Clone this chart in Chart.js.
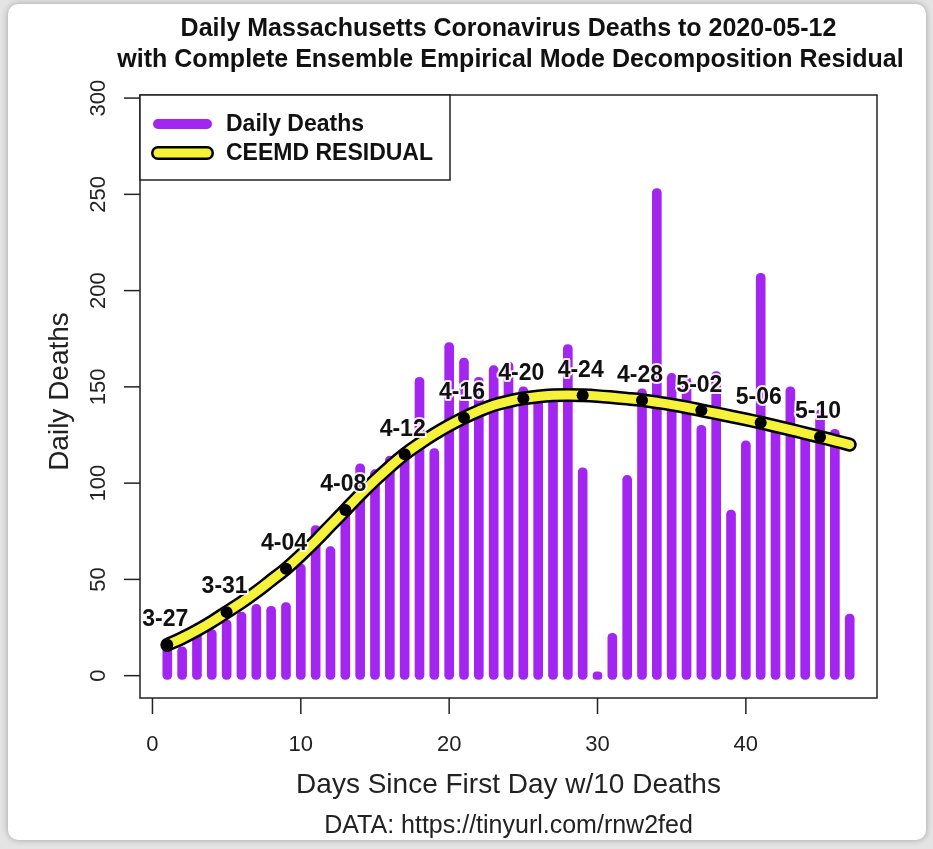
<!DOCTYPE html>
<html>
<head>
<meta charset="utf-8">
<title>Daily Massachusetts Coronavirus Deaths</title>
<script src="https://cdn.jsdelivr.net/npm/chart.js@4.4.1/dist/chart.umd.min.js"></script>
<style>
  html, body { margin: 0; padding: 0; background: #e4e4e4; }
  #panel {
    position: absolute; left: 8px; top: 4px; width: 918px; height: 836px;
    background: #fff; border-radius: 10px; box-shadow: 0 0 6px rgba(0, 0, 0, 0.3);
  }
  #wrap { position: absolute; left: 0; top: 0; width: 933px; height: 849px; }
</style>
</head>
<body>
<div id="panel"></div>
<div id="wrap"><canvas id="deathsChart" width="933" height="849"></canvas></div>
<script>
/////////////////////////////////////////////////////
// Data
/////////////////////////////////////////////////////

// Day number since first day with 10 deaths
var days = [1, 2, 3, 4, 5, 6, 7, 8, 9, 10, 11, 12, 13, 14, 15, 16, 17, 18, 19, 20, 21, 22, 23, 24,
            25, 26, 27, 28, 29, 30, 31, 32, 33, 34, 35, 36, 37, 38, 39, 40, 41, 42, 43, 44, 45, 46, 47];

// Daily deaths (purple bars)
var dailyDeaths = [15, 15, 27, 24, 29, 33, 37, 36, 38, 58, 78, 67, 88, 110, 107, 114, 116, 155, 118, 173,
                   165, 155, 161, 163, 150, 147, 148, 172, 108, 2, 22, 104, 149, 253, 157, 155, 130, 158, 86, 122,
                   209, 132, 150, 128, 138, 128, 32];

// CEEMD residual (yellow curve)
var ceemdResidual = [16, 19.5, 23.5, 28, 33, 38, 43.5, 49.5, 55.5, 62.5, 70, 78, 86, 94, 101.5, 108.5, 115, 120.5,
                     125.5, 130, 134, 137.5, 140.5, 142.5, 144, 145, 145.6, 145.8, 145.6, 145.2, 144.6, 143.9,
                     143.1, 142, 140.8, 139.4, 137.8, 136.3, 134.7, 133.1, 131.4, 129.6, 127.8, 125.9, 124, 122, 120];

// Date labels on the curve
var labelDays = [1, 5, 9, 13, 17, 21, 25, 29, 33, 37, 41, 45];
var dateLabels = ["3-27", "3-31", "4-04", "4-08", "4-12", "4-16", "4-20", "4-24", "4-28", "5-02", "5-06", "5-10"];

// Axis ticks
var xTicks = [0, 10, 20, 30, 40];
var yTicks = [0, 50, 100, 150, 200, 250, 300];

var purple = "#a326f0";
var yellow = "#f6f23a";
var fontFam = "'Liberation Sans', Arial, Helvetica, sans-serif";

/////////////////////////////////////////////////////
// Build point lists for the library
/////////////////////////////////////////////////////
var barPoints = days.map(function(d, i) { return { x: d, y: dailyDeaths[i] }; });
var residualPoints = days.map(function(d, i) { return { x: d, y: ceemdResidual[i] }; });

/////////////////////////////////////////////////////
// R style decorations: box, axes, titles, legend, labels
/////////////////////////////////////////////////////
var rStyle = {
  id: "rStyle",
  afterDatasetsDraw: function(chart) {
    var c = chart.ctx;
    var xs = chart.scales.x, ys = chart.scales.y;
    c.save();
    c.font = "bold 23px " + fontFam;
    c.textAlign = "center";
    c.textBaseline = "middle";
    c.lineJoin = "round";
    for (var i = 0; i < labelDays.length; i++) {
      var px = xs.getPixelForValue(labelDays[i]) - 2;
      var py = ys.getPixelForValue(ceemdResidual[labelDays[i] - 1]) - 25;
      c.strokeStyle = "rgba(255,255,255,0.9)";
      c.lineWidth = 4;
      c.strokeText(dateLabels[i], px, py);
      c.fillStyle = "#111";
      c.fillText(dateLabels[i], px, py);
    }
    c.restore();
  },
  afterDraw: function(chart) {
    var c = chart.ctx;
    var a = chart.chartArea;
    var xs = chart.scales.x, ys = chart.scales.y;
    c.save();

    // plot box
    c.strokeStyle = "#222";
    c.lineWidth = 1.5;
    c.strokeRect(a.left, a.top, a.right - a.left, a.bottom - a.top);

    // x axis ticks + labels
    c.fillStyle = "#222";
    c.font = "22px " + fontFam;
    c.textAlign = "center";
    c.textBaseline = "middle";
    xTicks.forEach(function(t) {
      var px = xs.getPixelForValue(t);
      c.beginPath();
      c.moveTo(px, a.bottom);
      c.lineTo(px, a.bottom + 16);
      c.stroke();
      c.fillText(String(t), px, a.bottom + 47);
    });

    // y axis ticks + rotated labels
    yTicks.forEach(function(t) {
      var py = ys.getPixelForValue(t);
      c.beginPath();
      c.moveTo(a.left, py);
      c.lineTo(a.left - 16, py);
      c.stroke();
      c.save();
      c.translate(a.left - 41, py);
      c.rotate(-Math.PI / 2);
      c.fillText(String(t), 0, 0);
      c.restore();
    });

    // axis titles
    var mid = (a.left + a.right) / 2;
    c.font = "28px " + fontFam;
    c.fillText("Days Since First Day w/10 Deaths", mid, a.bottom + 87);
    c.save();
    c.translate(a.left - 80, (a.top + a.bottom) / 2 - 5);
    c.rotate(-Math.PI / 2);
    c.fillText("Daily Deaths", 0, 0);
    c.restore();

    c.font = "25px " + fontFam;
    c.fillText("DATA: https://tinyurl.com/rnw2fed", mid, a.bottom + 128);

    // main title
    c.fillStyle = "#111";
    c.font = "bold 25px " + fontFam;
    c.fillText("Daily Massachusetts Coronavirus Deaths to 2020-05-12", mid, a.top - 66);
    c.fillText("with Complete Ensemble Empirical Mode Decomposition Residual", mid + 2, a.top - 35);

    // legend
    var lx = a.left, ly = a.top, lw = 310, lh = 85;
    c.fillStyle = "#fff";
    c.fillRect(lx, ly, lw, lh);
    c.strokeStyle = "#222";
    c.lineWidth = 1.5;
    c.strokeRect(lx, ly, lw, lh);
    c.lineCap = "round";
    c.strokeStyle = purple;
    c.lineWidth = 10;
    c.beginPath(); c.moveTo(lx + 18, ly + 29); c.lineTo(lx + 67, ly + 29); c.stroke();
    c.strokeStyle = "#000";
    c.lineWidth = 14;
    c.beginPath(); c.moveTo(lx + 18, ly + 58); c.lineTo(lx + 67, ly + 58); c.stroke();
    c.strokeStyle = yellow;
    c.lineWidth = 9;
    c.beginPath(); c.moveTo(lx + 18, ly + 58); c.lineTo(lx + 67, ly + 58); c.stroke();
    c.fillStyle = "#111";
    c.font = "bold 23px " + fontFam;
    c.textAlign = "left";
    c.fillText("Daily Deaths", lx + 86, ly + 30);
    c.fillText("CEEMD RESIDUAL", lx + 86, ly + 59);

    c.restore();
  }
};

/////////////////////////////////////////////////////
// Chart
/////////////////////////////////////////////////////
var ctx = document.getElementById("deathsChart").getContext("2d");

var myChart = new Chart(ctx, {
  type: "bar",
  data: {
    datasets: [
      {
        type: "bar",
        label: "Daily Deaths",
        data: barPoints,
        backgroundColor: purple,
        barThickness: 9,
        borderRadius: 4.5,
        borderSkipped: false,
        base: -2,
        order: 3
      },
      {
        type: "line",
        label: "outline",
        data: residualPoints,
        borderColor: "#000",
        borderWidth: 14,
        borderCapStyle: "round",
        borderJoinStyle: "round",
        pointRadius: 0,
        tension: 0.4,
        order: 2
      },
      {
        type: "line",
        label: "CEEMD RESIDUAL",
        data: residualPoints,
        borderColor: yellow,
        borderWidth: 9,
        borderCapStyle: "round",
        borderJoinStyle: "round",
        tension: 0.4,
        pointRadius: function(ctx) {
          return labelDays.indexOf(ctx.raw.x) >= 0 ? 6 : 0;
        },
        pointBackgroundColor: "#000",
        pointBorderWidth: 0,
        order: 1
      }
    ]
  },
  options: {
    responsive: false,
    animation: false,
    layout: { padding: { left: 140, right: 56, top: 95, bottom: 151 } },
    plugins: {
      legend: { display: false },
      title: { display: false },
      tooltip: { enabled: false }
    },
    scales: {
      x: { type: "linear", min: -0.84, max: 48.84, offset: false, display: false },
      y: { type: "linear", min: -11.6, max: 301.6, display: false }
    }
  },
  plugins: [rStyle]
});
</script>
</body>
</html>
